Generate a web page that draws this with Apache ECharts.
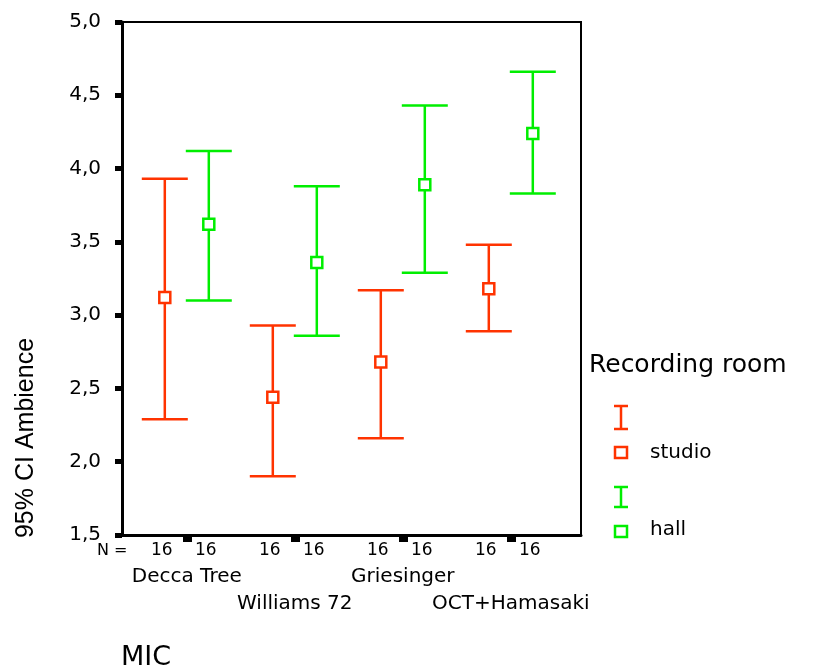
<!DOCTYPE html>
<html>
<head>
<meta charset="utf-8">
<script src="https://cdn.jsdelivr.net/npm/echarts@6/dist/echarts.min.js"></script>
<style>
  html, body { margin: 0; padding: 0; background: #fff; }
  #chart { width: 831px; height: 669px; }
</style>
</head>
<body>
<div id="chart"></div>
<script>
// mic categories and their slot on the x axis
var micNames = ['Decca Tree', 'Williams 72', 'Griesinger', 'OCT+Hamasaki'];
var micPos = [1, 2, 3, 4];

// 95% CI of Ambience, per recording room
var studioMean = [3.12, 2.44, 2.68, 3.18];
var studioLow = [2.29, 1.90, 2.16, 2.89];
var studioHigh = [3.93, 2.93, 3.17, 3.48];
var studioN = [16, 16, 16, 16];

var hallMean = [3.62, 3.36, 3.89, 4.24];
var hallLow = [3.10, 2.86, 3.29, 3.83];
var hallHigh = [4.12, 3.88, 4.43, 4.66];
var hallN = [16, 16, 16, 16];

var RED = '#ff3300';
var GREEN = '#00ee00';
var FONT = '"DejaVu Sans"';

function rows(mean, low, high, n) {
  return micPos.map(function (p, i) {
    return [p, low[i], mean[i], high[i], n[i]];
  });
}

function errorBarItem(color, shift) {
  return function (params, api) {
    var x = api.value(0);
    var lo = api.coord([x, api.value(1)]);
    var mid = api.coord([x, api.value(2)]);
    var hi = api.coord([x, api.value(3)]);
    var px = lo[0] + shift;
    var cap = 23;
    var cs = params.coordSys;
    var st = { stroke: color, lineWidth: 2.5 };
    return {
      type: 'group',
      children: [
        { type: 'line', shape: { x1: px, y1: hi[1], x2: px, y2: lo[1] }, style: st },
        { type: 'line', shape: { x1: px - cap, y1: hi[1], x2: px + cap, y2: hi[1] }, style: st },
        { type: 'line', shape: { x1: px - cap, y1: lo[1], x2: px + cap, y2: lo[1] }, style: st },
        { type: 'rect', shape: { x: px - 5.5, y: mid[1] - 5.5, width: 11, height: 11 },
          style: { fill: '#fff', stroke: color, lineWidth: 2.5 } },
        { type: 'text', x: px - 3, y: cs.y + cs.height + 16,
          style: { text: String(api.value(4)), fill: '#000', font: '17px ' + FONT,
                   align: 'center', verticalAlign: 'middle' } }
      ]
    };
  };
}

// mic names sit on two staggered rows, one x axis per row
function micAxis(values, margin, main) {
  return {
    type: 'value',
    min: 0.4,
    max: 4.65,
    position: 'bottom',
    splitLine: { show: false },
    axisLine: { show: main, onZero: false, lineStyle: { color: '#000', width: 3 } },
    axisTick: { show: main, customValues: micPos, length: 7, lineStyle: { color: '#000', width: 9 } },
    axisLabel: {
      customValues: values,
      color: '#000',
      fontFamily: 'DejaVu Sans',
      fontSize: 20,
      margin: margin,
      formatter: function (v) { return micNames[micPos.indexOf(v)]; }
    }
  };
}

var chart = echarts.init(document.getElementById('chart'));

var option = {
  animation: false,
  backgroundColor: '#fff',
  grid: {
    left: 122, top: 22, right: 250, bottom: 134,
    show: true, borderColor: '#000', borderWidth: 2
  },
  xAxis: [
    micAxis([1, 3], 32, true),
    micAxis([2, 4], 59, false)
  ],
  yAxis: {
    type: 'value',
    min: 1.5,
    max: 5,
    interval: 0.5,
    splitLine: { show: false },
    axisLine: { lineStyle: { color: '#000', width: 3 } },
    axisTick: { length: 7, lineStyle: { color: '#000', width: 5 } },
    axisLabel: {
      color: '#000',
      fontFamily: 'DejaVu Sans',
      fontSize: 20,
      margin: 21,
      formatter: function (v) { return v.toFixed(1).replace('.', ','); }
    }
  },
  series: [
    {
      name: 'studio',
      type: 'custom',
      renderItem: errorBarItem(RED, -22),
      data: rows(studioMean, studioLow, studioHigh, studioN),
      z: 10
    },
    {
      name: 'hall',
      type: 'custom',
      renderItem: errorBarItem(GREEN, 22),
      data: rows(hallMean, hallLow, hallHigh, hallN),
      z: 10
    }
  ],
  graphic: [
    { type: 'text', x: 26, y: 438, rotation: Math.PI / 2,
      style: { text: '95% CI Ambience', fill: '#000', font: '25px "Liberation Sans Narrow", "Liberation Sans"',
               align: 'center', verticalAlign: 'middle' } },
    { type: 'text', x: 97, y: 551,
      style: { text: 'N =', fill: '#000', font: '16px ' + FONT, verticalAlign: 'middle' } },
    { type: 'text', x: 121, y: 658,
      style: { text: 'MIC', fill: '#000', font: '27px ' + FONT, verticalAlign: 'middle' } },
    // legend
    { type: 'text', x: 589, y: 365,
      style: { text: 'Recording room', fill: '#000', font: '25px ' + FONT, verticalAlign: 'middle' } },
    { type: 'group', x: 621, y: 0, children: [
      { type: 'line', shape: { x1: -7, y1: 406, x2: 7, y2: 406 }, style: { stroke: RED, lineWidth: 2.5 } },
      { type: 'line', shape: { x1: 0, y1: 406, x2: 0, y2: 429 }, style: { stroke: RED, lineWidth: 2.5 } },
      { type: 'line', shape: { x1: -7, y1: 429, x2: 7, y2: 429 }, style: { stroke: RED, lineWidth: 2.5 } },
      { type: 'rect', shape: { x: -6, y: 447, width: 12, height: 11 }, style: { fill: '#fff', stroke: RED, lineWidth: 2.5 } },
      { type: 'line', shape: { x1: -7, y1: 487, x2: 7, y2: 487 }, style: { stroke: GREEN, lineWidth: 2.5 } },
      { type: 'line', shape: { x1: 0, y1: 487, x2: 0, y2: 507 }, style: { stroke: GREEN, lineWidth: 2.5 } },
      { type: 'line', shape: { x1: -7, y1: 507, x2: 7, y2: 507 }, style: { stroke: GREEN, lineWidth: 2.5 } },
      { type: 'rect', shape: { x: -6, y: 526, width: 12, height: 11 }, style: { fill: '#fff', stroke: GREEN, lineWidth: 2.5 } }
    ] },
    { type: 'text', x: 650, y: 453,
      style: { text: 'studio', fill: '#000', font: '20px ' + FONT, verticalAlign: 'middle' } },
    { type: 'text', x: 650, y: 530,
      style: { text: 'hall', fill: '#000', font: '20px ' + FONT, verticalAlign: 'middle' } }
  ]
};

chart.setOption(option);
</script>
</body>
</html>
